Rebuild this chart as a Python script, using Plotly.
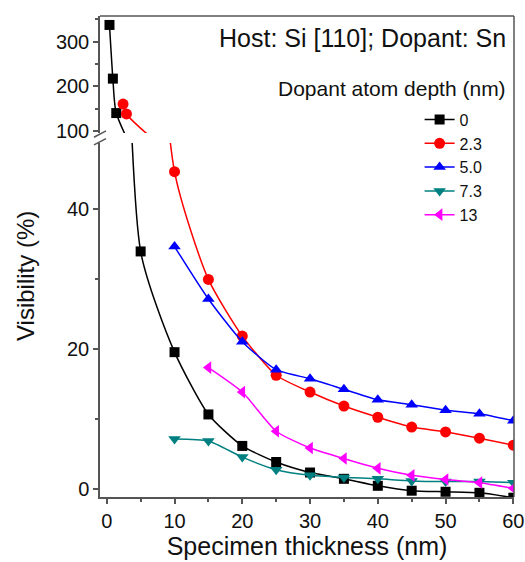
import plotly.graph_objects as go

# Specimen thickness (nm) and visibility (%) for each dopant depth
depth_labels = ["0", "2.3", "5.0", "7.3", "13"]

thick_0 = [0.4, 0.9, 1.4, 5, 10, 15, 20, 25, 30, 35, 40, 45, 50, 55, 60]
vis_0 = [337, 217, 140, 34.0, 19.6, 10.7, 6.2, 3.9, 2.4, 1.5, 0.5, -0.2, -0.35, -0.5, -1.2]

thick_23 = [2.4, 2.9, 10, 15, 20, 25, 30, 35, 40, 45, 50, 55, 60]
vis_23 = [160, 138, 45.4, 30.0, 21.9, 16.3, 13.9, 11.9, 10.3, 8.9, 8.2, 7.3, 6.3]

thick_50 = [10, 15, 20, 25, 30, 35, 40, 45, 50, 55, 60]
vis_50 = [34.7, 27.2, 21.1, 17.1, 15.8, 14.3, 12.8, 12.1, 11.3, 10.8, 9.8]

thick_73 = [10, 15, 20, 25, 30, 35, 40, 45, 50, 55, 60]
vis_73 = [7.2, 6.9, 4.6, 2.8, 2.0, 1.7, 1.5, 1.2, 1.1, 1.1, 0.95]

thick_13 = [15, 20, 25, 30, 35, 40, 45, 50, 55, 60]
vis_13 = [17.4, 13.9, 8.3, 5.9, 4.4, 3.0, 2.0, 1.4, 0.95, 0.15]

x_ticks = [0, 10, 20, 30, 40, 50, 60]
low_ticks = [0, 20, 40]
high_ticks = [100, 200, 300]

series = [
    (thick_0, vis_0, "black", "square", 10),
    (thick_23, vis_23, "#ff0000", "circle", 11),
    (thick_50, vis_50, "#0000ff", "triangle-up", 11),
    (thick_73, vis_73, "#008080", "triangle-down", 11),
    (thick_13, vis_13, "#ff00ff", "triangle-left", 11),
]

AX = "#555555"
FONT = "Liberation Sans, Arial, sans-serif"

fig = go.Figure()
for (xs, ys, color, sym, size), name in zip(series, depth_labels):
    common = dict(
        x=xs, y=ys, mode="lines+markers", name=name, legendgroup=name,
        line=dict(color=color, width=1.5, shape="spline", smoothing=0.6),
        marker=dict(color=color, symbol=sym, size=size, line=dict(width=0)),
    )
    # lower (0-50 %) segment of the broken axis
    fig.add_trace(go.Scatter(xaxis="x", yaxis="y", showlegend=True, **common))
    # upper (100-350 %) segment of the broken axis
    fig.add_trace(go.Scatter(xaxis="x2", yaxis="y2", showlegend=False, **common))

tick_style = dict(
    showline=True, linecolor=AX, linewidth=1.5, ticks="outside", ticklen=5,
    tickwidth=1.5, tickcolor=AX, showgrid=False, zeroline=False, automargin=False,
    tickfont=dict(size=20, color="#111111"),
)

fig.update_layout(
    width=525, height=562,
    margin=dict(l=100, r=11, t=16, b=65, pad=0, autoexpand=False),
    paper_bgcolor="white", plot_bgcolor="white",
    font=dict(family=FONT, color="#111111"),
    xaxis=dict(
        range=[-1, 60.1], anchor="y", tickvals=x_ticks,
        minor=dict(dtick=5, tick0=0, ticks="outside", ticklen=3, tickcolor=AX, tickwidth=1.5),
        title=dict(text="Specimen thickness (nm)", font=dict(size=25), standoff=5),
        **tick_style,
    ),
    xaxis2=dict(range=[-1, 60.1], anchor="y2", matches="x", visible=False, automargin=False),
    yaxis=dict(
        domain=[0, 0.736], range=[-1.1, 49.5], anchor="x", tickvals=low_ticks,
        minor=dict(dtick=10, tick0=0, ticks="outside", ticklen=3, tickcolor=AX, tickwidth=1.5),
        **tick_style,
    ),
    yaxis2=dict(
        domain=[0.757, 1], range=[95.7, 357], anchor="x2", tickvals=high_ticks,
        minor=dict(dtick=50, tick0=0, ticks="outside", ticklen=3, tickcolor=AX, tickwidth=1.5),
        **tick_style,
    ),
    legend=dict(
        x=0.772, y=0.820, xanchor="left", yanchor="top",
        bgcolor="rgba(0,0,0,0)", font=dict(size=16), itemwidth=30,
        tracegroupgap=0,
    ),
    showlegend=True,
)

# frame: top and right borders
fig.add_shape(type="line", xref="paper", yref="paper", x0=0, x1=1, y0=1, y1=1,
              line=dict(color=AX, width=1.5))
fig.add_shape(type="line", xref="paper", yref="paper", x0=1, x1=1, y0=0, y1=1,
              line=dict(color=AX, width=1.5))
# axis break marks on the left axis
for y0, y1 in [(0.748, 0.761), (0.732, 0.745)]:
    fig.add_shape(type="line", xref="paper", yref="paper", x0=-0.0145, x1=0.0145,
                  y0=y0, y1=y1, line=dict(color=AX, width=1.5))

fig.add_annotation(text="Visibility (%)", xref="paper", yref="paper", x=-0.18, y=0.4605,
                   xanchor="center", yanchor="middle",
                   textangle=-90, showarrow=False, font=dict(size=24))
fig.add_annotation(text="Host: Si [110]; Dopant: Sn", xref="paper", yref="paper",
                   x=0.986, y=0.954, xanchor="right", yanchor="middle",
                   showarrow=False, font=dict(size=25))
fig.add_annotation(text="Dopant atom depth (nm)", xref="paper", yref="paper",
                   x=0.986, y=0.850, xanchor="right", yanchor="middle",
                   showarrow=False, font=dict(size=21))

fig.write_html("out.html")
